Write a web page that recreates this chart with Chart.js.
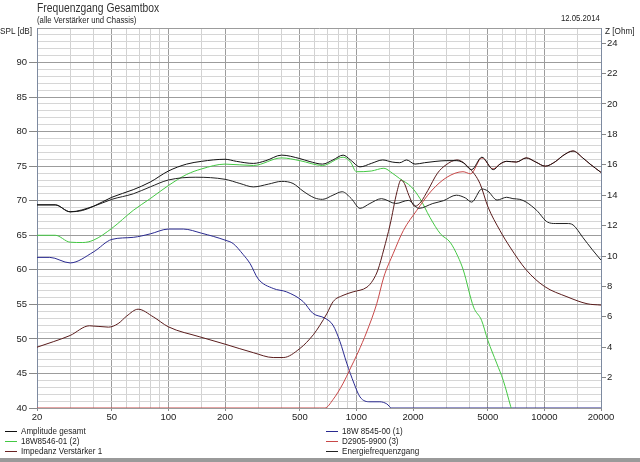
<!DOCTYPE html>
<html>
<head>
<meta charset="utf-8">
<script src="https://cdn.jsdelivr.net/npm/chart.js@4.4.0/dist/chart.umd.min.js"></script>
<style>
  body { margin: 0; background: #fff; }
  #wrap { position: relative; width: 640px; height: 462px; overflow: hidden; }
  #wrap canvas { position: absolute; left: 0; top: 0; }
  .txt { position: absolute; white-space: nowrap; color: #222;
         font-family: 'Liberation Sans', Arial, sans-serif; font-size: 9.5px; line-height: 10px; }
  .narrow { transform: scaleX(0.86); transform-origin: left top; }
  .leg { position: absolute; height: 10px; }
  .leg i { position: absolute; left: 0; top: 5px; width: 12px; height: 1px; }
  .leg span { position: absolute; left: 16px; top: 0; transform: scaleX(0.85); transform-origin: left top; }
  #frame { position: absolute; left: 0; top: 458px; width: 640px; height: 4px; background: #9a9a9a; }
</style>
</head>
<body>
<div id="wrap">
  <canvas id="chart" width="640" height="462"></canvas>
  <div class="txt narrow" style="left:37px;top:2px;font-size:12px;line-height:13px;color:#333">Frequenzgang Gesamtbox</div>
  <div class="txt narrow" style="left:37px;top:15px;font-size:9px;">(alle Verstärker und Chassis)</div>
  <div class="txt narrow" style="left:561px;top:13px;font-size:9px;">12.05.2014</div>
  <div class="txt narrow" style="left:0px;top:26px;">SPL [dB]</div>
  <div class="txt narrow" style="left:605px;top:26px;">Z [Ohm]</div>
  <div id="legend"></div>
  <div id="frame"></div>
</div>
<script>
// Frequenzachse
const gridFreqs = [20, 30, 40, 50, 60, 70, 80, 90, 100, 150, 200, 300, 400, 500, 600, 700, 800, 900,
  1000, 1500, 2000, 3000, 4000, 5000, 6000, 7000, 8000, 9000, 10000, 15000, 20000];
const freqLabels = [20, 50, 100, 200, 500, 1000, 2000, 5000, 10000, 20000];

// Amplitude gesamt [dB]
const ampFreq = [20, 25, 30, 35, 40, 50, 65, 80, 100, 125, 150, 200, 230, 283, 330, 400, 500, 560, 660, 750,
  850, 930, 1045, 1200, 1380, 1550, 1700, 1850, 2050, 2300, 2650, 3000, 3400, 3700, 4100, 4650, 5350, 5800,
  6300, 7100, 8000, 9000, 10100, 11500, 12500, 14200, 16000, 17500, 20000];
const ampSpl = [69.4, 69.4, 68.4, 68.6, 69.2, 70.5, 71.6, 72.7, 74.3, 75.3, 75.7, 76.0, 75.7, 75.4, 75.8, 76.6,
  76.1, 75.7, 75.3, 75.9, 76.6, 75.9, 74.9, 75.4, 75.9, 75.6, 75.5, 75.9, 75.3, 75.5, 75.7, 75.8, 75.8, 75.5,
  74.5, 76.3, 74.5, 75.3, 75.7, 75.6, 76.2, 75.6, 75.0, 75.7, 76.5, 77.2, 76.2, 75.3, 74.1];

// 18W 8545-00 (1)
const wooferFreq = [20, 23.4, 30, 40, 50, 65, 80, 100, 120, 150, 200, 221, 250, 272, 300, 361, 426, 521, 587,
  680, 750, 818, 888, 970, 1045, 1180, 1334, 1450, 1540, 20000];
const wooferSpl = [61.8, 61.8, 61.0, 62.6, 64.4, 64.7, 65.2, 65.9, 65.9, 65.3, 64.3, 63.8, 62.2, 60.9, 58.7,
  57.3, 56.8, 55.4, 53.7, 53.0, 52.0, 49.6, 46.5, 43.6, 41.6, 40.9, 40.9, 40.6, 40.0, 40.0];

// 18W8546-01 (2)
const midFreq = [20, 25, 30, 35, 40, 50, 65, 80, 100, 125, 150, 200, 283, 400, 500, 660, 850, 930, 1000, 1200,
  1400, 1550, 1700, 1960, 2180, 2460, 2800, 3150, 3470, 3700, 4200, 4630, 5000, 5570, 6040, 6620, 6900];
const midSpl = [65.0, 65.0, 64.0, 63.95, 64.3, 66.0, 68.6, 70.3, 72.2, 73.8, 74.6, 75.3, 75.1, 76.2, 75.8, 75.1,
  76.3, 75.6, 74.2, 74.3, 74.7, 74.0, 73.2, 72.0, 70.3, 67.6, 65.2, 64.0, 61.9, 60.0, 54.6, 52.7, 49.8, 46.5,
  44.0, 40.2, 38.5];

// D2905-9900 (3)
const tweeterFreq = [20, 680, 750, 851, 920, 1022, 1134, 1283, 1400, 1572, 1778, 2094, 2500, 3030, 3690, 4050,
  4650, 5330, 5800, 6300, 7100, 8000, 9000, 10100, 11500, 12500, 14200, 16000, 17500, 20000];
const tweeterSpl = [40, 40, 41.2, 43.6, 45.5, 48.1, 51.0, 55.1, 59.0, 62.4, 65.7, 68.6, 71.4, 73.4, 74.2, 73.9,
  76.2, 74.6, 75.3, 75.7, 75.6, 76.2, 75.6, 75.0, 75.7, 76.5, 77.2, 76.2, 75.3, 74.1];

// Impedanz Verstärker 1 [Ohm]
const impFreq = [20, 24.4, 30, 38, 48, 54, 60, 69, 83, 100, 147, 200, 283, 361, 408, 500, 590, 640, 698, 752,
  849, 960, 1138, 1225, 1302, 1400, 1510, 1644, 1727, 1800, 1900, 2050, 2200, 2400, 2700, 3000, 3430, 4020,
  4540, 5010, 5800, 6560, 8000, 10000, 13180, 16850, 20000];
const impOhm = [4.00, 4.36, 4.77, 5.41, 5.32, 5.55, 6.05, 6.50, 6.00, 5.34, 4.68, 4.20, 3.64, 3.32, 3.32, 3.91,
  4.82, 5.45, 6.23, 7.00, 7.41, 7.64, 7.95, 8.41, 9.09, 10.45, 12.05, 14.23, 15.0, 14.77, 14.0, 13.27, 13.55,
  14.32, 15.45, 16.0, 16.32, 15.73, 14.77, 13.23, 11.68, 10.59, 9.09, 8.0, 7.32, 6.86, 6.77];

// Energiefrequenzgang [dB]
const energyFreq = [20, 25, 30, 40, 50, 65, 80, 100, 140, 200, 240, 283, 340, 400, 460, 520, 600, 660, 750, 840,
  940, 1045, 1180, 1360, 1620, 1890, 2150, 2550, 2900, 3400, 3800, 4100, 4650, 5000, 5600, 6300, 6800, 7400,
  8000, 9100, 10400, 11500, 13200, 14200, 16000, 18000, 20000];
const energySpl = [69.4, 69.4, 68.4, 69.2, 70.2, 71.0, 72.0, 73.0, 73.4, 73.1, 72.5, 72.0, 72.4, 72.8, 72.5,
  71.4, 70.4, 70.2, 70.8, 71.3, 70.3, 68.9, 69.6, 70.3, 69.6, 70.05, 68.9, 69.6, 70.0, 70.8, 70.4, 69.8, 71.7,
  71.4, 70.1, 70.5, 70.3, 70.2, 69.8, 68.6, 66.9, 66.7, 66.7, 66.5, 64.7, 62.9, 61.4];

const FONT = "'Liberation Sans', Arial, sans-serif";

function toPoints(xs, ys) {
  return xs.map((x, i) => ({ x: x, y: ys[i] }));
}

function serie(label, xs, ys, color, axis) {
  return {
    label: label,
    data: toPoints(xs, ys),
    borderColor: color,
    borderWidth: 1,
    pointRadius: 0,
    cubicInterpolationMode: 'monotone',
    yAxisID: axis || 'spl',
  };
}

const series = [
  serie('Amplitude gesamt', ampFreq, ampSpl, '#111111'),
  serie('Energiefrequenzgang', energyFreq, energySpl, '#222222'),
  serie('Impedanz Verstärker 1', impFreq, impOhm, '#5a1c1c', 'z'),
  serie('D2905-9900 (3)', tweeterFreq, tweeterSpl, '#c84848'),
  serie('18W8546-01 (2)', midFreq, midSpl, '#44c844'),
  serie('18W 8545-00 (1)', wooferFreq, wooferSpl, '#2a2a90'),
];

// Legende unten, zwei Spalten
const legendItems = [
  ['Amplitude gesamt', '#111111', 5, 426],
  ['18W8546-01 (2)', '#44c844', 5, 436],
  ['Impedanz Verstärker 1', '#6a2424', 5, 446],
  ['18W 8545-00 (1)', '#2a2a90', 326, 426],
  ['D2905-9900 (3)', '#c84848', 326, 436],
  ['Energiefrequenzgang', '#222222', 326, 446],
];
const legend = document.getElementById('legend');
legendItems.forEach(([text, color, left, top]) => {
  const el = document.createElement('div');
  el.className = 'txt leg';
  el.style.left = left + 'px';
  el.style.top = top + 'px';
  el.innerHTML = `<i style="background:${color}"></i><span>${text}</span>`;
  legend.appendChild(el);
});

new Chart(document.getElementById('chart'), {
  type: 'line',
  data: { datasets: series },
  options: {
    responsive: false,
    animation: false,
    devicePixelRatio: 1,
    layout: { autoPadding: false, padding: { top: 28, left: 0, right: 0, bottom: 0 } },
    plugins: { legend: { display: false }, tooltip: { enabled: false } },
    scales: {
      x: {
        type: 'logarithmic',
        min: 20,
        max: 20000,
        afterBuildTicks: (scale) => { scale.ticks = gridFreqs.map(v => ({ value: v })); },
        afterFit: (scale) => { scale.height = 54; },
        ticks: {
          autoSkip: false,
          maxRotation: 0,
          padding: 1,
          color: '#222',
          font: { family: FONT, size: 9.5 },
          callback: (v) => freqLabels.includes(v) ? String(v) : '',
        },
        grid: {
          color: (ctx) => ctx.tick && freqLabels.includes(ctx.tick.value) ? '#9c9c9c' : '#d2d2d2',
          tickColor: (ctx) => ctx.tick && freqLabels.includes(ctx.tick.value) ? '#888' : 'transparent',
          tickLength: 3,
        },
        border: { color: '#9c9c9c' },
      },
      spl: {
        position: 'left',
        min: 40,
        max: 95,
        afterFit: (scale) => { scale.width = 37; },
        ticks: {
          stepSize: 1,
          autoSkip: false,
          padding: 2,
          color: '#222',
          font: { family: FONT, size: 9.5 },
          callback: (v) => (v % 5 === 0 && v < 95) ? String(v) : '',
        },
        grid: {
          color: (ctx) => ctx.tick && ctx.tick.value % 5 === 0 ? '#9c9c9c' : '#d6d6d6',
          tickColor: (ctx) => ctx.tick && ctx.tick.value % 5 === 0 && ctx.tick.value < 95 ? '#888' : 'transparent',
          tickLength: 8,
        },
        border: { color: '#7d8aa0' },
      },
      z: {
        position: 'right',
        min: 0,
        max: 25,
        afterFit: (scale) => { scale.width = 39; },
        ticks: {
          stepSize: 2,
          autoSkip: false,
          padding: 1,
          color: '#222',
          font: { family: FONT, size: 9.5 },
          callback: (v) => (v > 0 && v % 2 === 0) ? String(v) : '',
        },
        grid: {
          drawOnChartArea: false,
          tickColor: (ctx) => ctx.tick && ctx.tick.value > 0 && ctx.tick.value % 2 === 0 ? '#888' : 'transparent',
          tickLength: 5,
        },
        border: { color: '#7d8aa0' },
      },
    },
  },
});
</script>
</body>
</html>
